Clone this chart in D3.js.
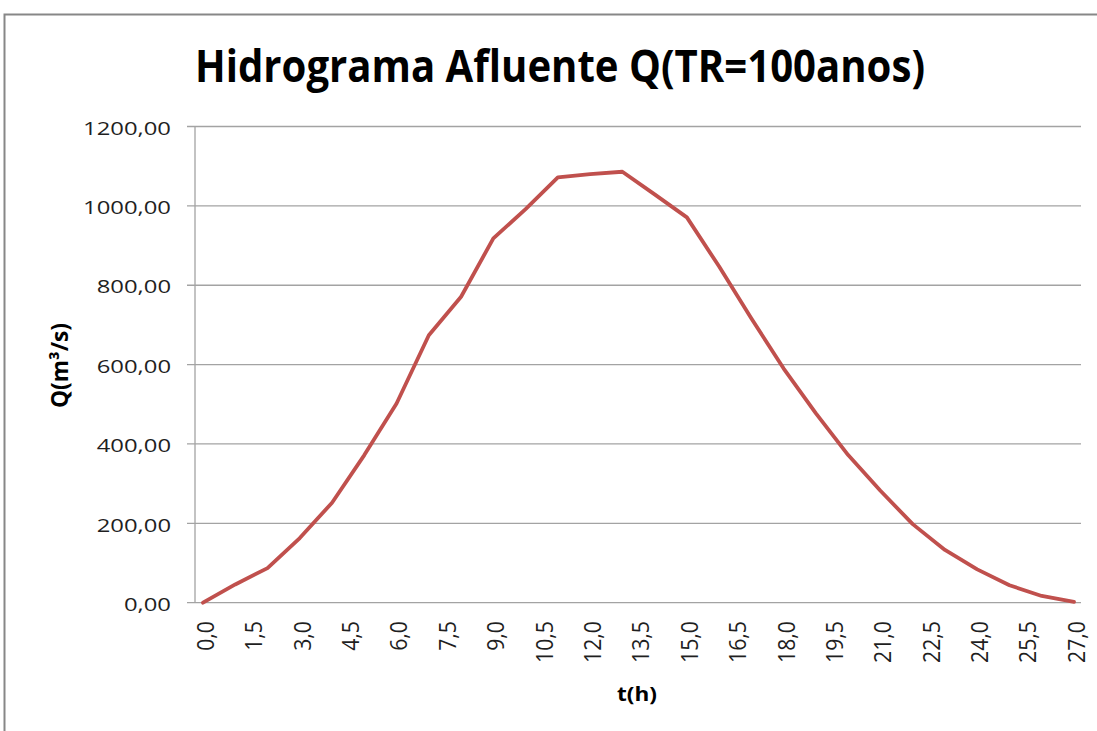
<!DOCTYPE html>
<html>
<head>
<meta charset="utf-8">
<script src="https://cdn.jsdelivr.net/npm/d3@7"></script>
<style>
  html, body { margin: 0; padding: 0; background: #ffffff; }
  svg { display: block; }
</style>
</head>
<body>
<svg id="chart" width="1097" height="731"></svg>
<script>
// ---- data ----
const hours = [0,1,2,3,4,5,6,7,8,9,10,11,12,13,14,15,16,17,18,19,20,21,22,23,24,25,26,27];
const flow  = [0,46,87,163,252,372,502,674,771,918,992,1072,1080,1086,1029,971,847,716,590,477,372,282,198,133,84,44,17,2];
const xTickValues = [0,1.5,3,4.5,6,7.5,9,10.5,12,13.5,15,16.5,18,19.5,21,22.5,24,25.5,27];
const yTickValues = [0,200,400,600,800,1000,1200];
const titleText = "Hidrograma Afluente Q(TR=100anos)";
const xTitle = "t(h)";
const yTitle = "Q(m³/s)";

const svg = d3.select("#chart");
const fmtX = v => v.toFixed(1).replace(".", ",");
const fmtY = v => v.toFixed(2).replace(".", ",");

// outer border
svg.append("rect")
  .attr("x", 4.5).attr("y", 14.5)
  .attr("width", 1200).attr("height", 800)
  .attr("fill", "#fff").attr("stroke", "#878787").attr("stroke-width", 2);

const plotLeft = 195, plotRight = 1081, plotTop = 126.5, plotBottom = 602.7;
const x = d3.scaleLinear().domain([0, 27]).range([203, 1074]);
const y = d3.scaleLinear().domain([0, 1200]).range([plotBottom, plotTop]);

const gridColor = "#a3a3a3";

// gridlines + y ticks
svg.append("g").selectAll("line").data(yTickValues).enter().append("line")
  .attr("x1", 187).attr("x2", plotRight)
  .attr("y1", d => y(d)).attr("y2", d => y(d))
  .attr("stroke", gridColor).attr("stroke-width", 1.3);

// y axis line
svg.append("line")
  .attr("x1", plotLeft).attr("x2", plotLeft)
  .attr("y1", plotTop).attr("y2", plotBottom)
  .attr("stroke", gridColor).attr("stroke-width", 1.3);

function measure(txt, size, weight) {
  const t = svg.append("text").attr("font-family", "Open Sans").attr("font-size", size)
    .attr("font-weight", weight).text(txt);
  const w = t.node().getComputedTextLength();
  t.remove();
  return w;
}

// y tick labels
const ySize = 18;
const ySx = 88 / measure("1200,00", ySize, "normal");
svg.append("g").selectAll("text").data(yTickValues).enter().append("text")
  .attr("transform", d => `translate(171,${y(d) + 1}) scale(${ySx},1)`)
  .attr("text-anchor", "end")
  .attr("dominant-baseline", "central")
  .attr("font-family", "Open Sans").attr("font-size", ySize)
  .attr("fill", "#1f1f1f")
  .text(fmtY);

// x tick labels (rotated)
const xSize = 20;
const xLenScale = 42 / measure("10,5", xSize, "normal");
svg.append("g").selectAll("text").data(xTickValues).enter().append("text")
  .attr("transform", d => `translate(${x(d) + 1.5},621) rotate(-90) scale(${xLenScale},1.15)`)
  .attr("text-anchor", "end")
  .attr("dominant-baseline", "central")
  .attr("font-family", "Open Sans").attr("font-size", xSize)
  .attr("fill", "#1f1f1f")
  .text(fmtX);

// line
const line = d3.line().x((d, i) => x(hours[i])).y(d => y(d));
svg.append("path")
  .datum(flow)
  .attr("d", line)
  .attr("fill", "none")
  .attr("stroke", "#C0504D")
  .attr("stroke-width", 3.8)
  .attr("stroke-linejoin", "round")
  .attr("stroke-linecap", "round");

// title
svg.append("text")
  .attr("x", 195).attr("y", 82)
  .attr("font-family", "Open Sans").attr("font-weight", "bold")
  .attr("font-size", 45)
  .attr("textLength", 730).attr("lengthAdjust", "spacingAndGlyphs")
  .attr("fill", "#000")
  .text(titleText);

// axis titles
svg.append("text")
  .attr("x", 617).attr("y", 701)
  .attr("font-family", "Open Sans").attr("font-weight", "bold")
  .attr("font-size", 20)
  .attr("textLength", 40).attr("lengthAdjust", "spacingAndGlyphs")
  .attr("fill", "#000")
  .text(xTitle);

svg.append("text")
  .attr("transform", "translate(68,408) rotate(-90) scale(1,1.15)")
  .attr("font-family", "Open Sans").attr("font-weight", "bold")
  .attr("font-size", 20)
  .attr("textLength", 85).attr("lengthAdjust", "spacingAndGlyphs")
  .attr("fill", "#000")
  .text(yTitle);
</script>
</body>
</html>
